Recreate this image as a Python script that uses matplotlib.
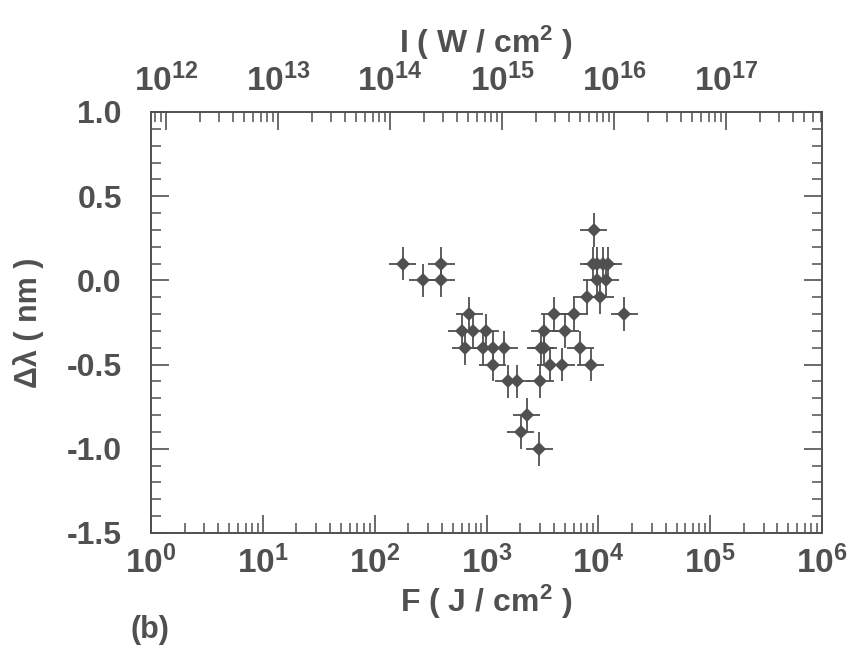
import numpy as np
import matplotlib
matplotlib.use("Agg")
import matplotlib.pyplot as plt
from matplotlib.ticker import LogLocator, MultipleLocator, FixedLocator, NullFormatter

plt.rcParams['font.family'] = ['Liberation Sans', 'DejaVu Sans']
plt.rcParams['font.weight'] = 'bold'
plt.rcParams['axes.labelweight'] = 'bold'
plt.rcParams['mathtext.fontset'] = 'custom'
plt.rcParams['mathtext.rm'] = 'Liberation Sans:bold'
plt.rcParams['mathtext.bf'] = 'Liberation Sans:bold'
plt.rcParams['mathtext.it'] = 'Liberation Sans:bold'

INK = '#505050'

# Fluence F (J/cm^2) and wavelength shift (nm)
fluence = [178, 393, 269, 393,
           703,
           601, 754, 986,
           644, 926, 1153, 1436,
           1138,
           1570, 1866,
           9060,
           9000, 9800, 10900, 12300,
           9700, 11700,
           7890, 10400,
           4030, 6110, 17100,
           3300, 5050,
           3050, 3250, 6870,
           3700, 4720, 8570,
           3020,
           2290, 2030, 2970]
shift = [0.1, 0.1, 0.0, 0.0,
         -0.2,
         -0.3, -0.3, -0.3,
         -0.4, -0.4, -0.4, -0.4,
         -0.5,
         -0.6, -0.6,
         0.3,
         0.1, 0.1, 0.1, 0.1,
         0.0, 0.0,
         -0.1, -0.1,
         -0.2, -0.2, -0.2,
         -0.3, -0.3,
         -0.4, -0.4, -0.4,
         -0.5, -0.5, -0.5,
         -0.6,
         -0.8, -0.9, -1.0]
shift_err = 0.1          # nm
fluence_rel_err = 0.32   # relative, symmetric in log space

bottom_ticks = [1e0, 1e1, 1e2, 1e3, 1e4, 1e5, 1e6]
bottom_labels = ['10$^{0}$', '10$^{1}$', '10$^{2}$', '10$^{3}$', '10$^{4}$', '10$^{5}$', '10$^{6}$']
top_ticks = [1e12, 1e13, 1e14, 1e15, 1e16, 1e17]
top_labels = ['10$^{12}$', '10$^{13}$', '10$^{14}$', '10$^{15}$', '10$^{16}$', '10$^{17}$']
y_ticks = [1.0, 0.5, 0.0, -0.5, -1.0, -1.5]

F = np.array(fluence, dtype=float)
dl = np.array(shift, dtype=float)
xerr = np.vstack([F - F / (1 + fluence_rel_err), F * fluence_rel_err])

fig = plt.figure(figsize=(8.56, 6.51), dpi=100)
ax = fig.add_axes([151 / 856, 1 - 533 / 651, (822 - 151) / 856, (533 - 112) / 651])

ax.errorbar(F, dl, xerr=xerr, yerr=shift_err, fmt='D', color=INK,
            markersize=7.6, elinewidth=1.3, capsize=3.2, capthick=1.3,
            ecolor=INK, markeredgewidth=0)

ax.set_xscale('log')
ax.set_xlim(1e0, 1e6)
ax.set_ylim(-1.5, 1.0)
ax.xaxis.set_major_locator(FixedLocator(bottom_ticks))
ax.set_xticklabels(bottom_labels)
ax.xaxis.set_minor_locator(LogLocator(base=10, subs=np.arange(2, 10)))
ax.xaxis.set_minor_formatter(NullFormatter())
ax.yaxis.set_major_locator(FixedLocator(y_ticks))
ax.set_yticklabels(['%.1f' % v for v in y_ticks])
ax.yaxis.set_minor_locator(MultipleLocator(0.1))

for s in ax.spines.values():
    s.set_color(INK)
    s.set_linewidth(1.4)

ax.tick_params(axis='x', which='both', direction='in', bottom=True, top=False,
               colors=INK, labelsize=24, pad=9)
ax.tick_params(axis='y', which='both', direction='in', left=True, right=True,
               colors=INK, labelsize=23, pad=21)
ax.tick_params(which='major', length=13, width=1.2)
ax.tick_params(which='minor', length=7, width=1.1)

ax.set_xlabel('F ( J / cm$^{2}$ )', fontsize=23, color=INK, labelpad=2)
ax.set_ylabel('Δλ ( nm )', fontsize=22, color=INK, labelpad=16)

# Intensity axis on top
top = ax.twiny()
top.set_xscale('log')
top.set_xlim(10 ** 11.866, 10 ** 17.857)
top.xaxis.set_major_locator(FixedLocator(top_ticks))
top.set_xticklabels(top_labels)
top.xaxis.set_minor_locator(LogLocator(base=10, subs=np.arange(2, 10)))
top.xaxis.set_minor_formatter(NullFormatter())
top.tick_params(axis='x', which='both', direction='in', colors=INK,
                labelsize=24, pad=10)
top.tick_params(which='major', length=13, width=1.2)
top.tick_params(which='minor', length=7, width=1.1)
for s in top.spines.values():
    s.set_visible(False)
top.set_xlabel('I ( W / cm$^{2}$ )', fontsize=23, color=INK, labelpad=8)

fig.text(130 / 856, 1 - 630 / 651, '(b)', fontsize=22, color=INK,
         ha='left', va='center')

fig.savefig('out.png', dpi=100)
